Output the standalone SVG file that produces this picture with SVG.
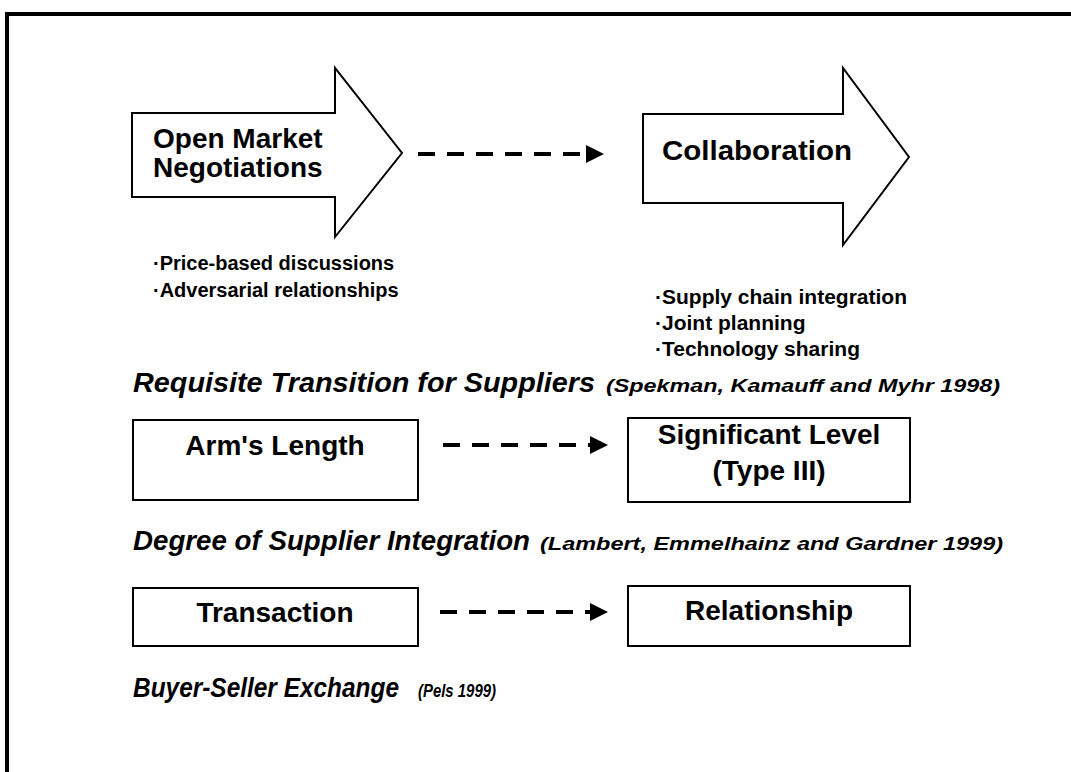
<svg xmlns="http://www.w3.org/2000/svg" width="1071" height="772" viewBox="0 0 1071 772">
<defs>
<style>
.lbl{font-family:"Liberation Sans",Arial,sans-serif;font-weight:bold;font-size:28px;fill:#000}
.bul{font-family:"Liberation Sans",Arial,sans-serif;font-weight:bold;font-size:20px;fill:#000}
.bul2{font-family:"Liberation Sans",Arial,sans-serif;font-weight:bold;font-size:21px;fill:#000}
.ttl{font-family:"Liberation Sans",Arial,sans-serif;font-weight:bold;font-style:italic;font-size:27px;fill:#000}
.cit{font-family:"Liberation Sans",Arial,sans-serif;font-weight:bold;font-style:italic;font-size:18px;fill:#000}
.shape{fill:#fff;stroke:#000;stroke-width:2}
.dash{fill:none;stroke:#000;stroke-width:4;stroke-dasharray:17 12}
</style>
<marker id="ah" viewBox="0 0 10 10" refX="0" refY="5" markerWidth="4.5" markerHeight="4.5" markerUnits="strokeWidth" orient="auto">
<path d="M0,0 L10,5 L0,10 Z" fill="#000"/>
</marker>
</defs>
<rect width="1071" height="772" fill="#fff"/>
<g id="frame">
<line x1="5" y1="14" x2="1071" y2="14" stroke="#000" stroke-width="4"/>
<line x1="7" y1="12" x2="7" y2="772" stroke="#000" stroke-width="4"/>
</g>
<g id="open-market">
<path class="shape" d="M132,113 L335,113 L335,68 L402,153 L335,237 L335,197 L132,197 Z"/>
<text class="lbl" x="153" y="148">Open Market</text>
<text class="lbl" x="153" y="177">Negotiations</text>
<text class="bul" x="153" y="270">·Price-based discussions</text>
<text class="bul" x="153" y="297">·Adversarial relationships</text>
</g>
<g id="collaboration">
<path class="shape" d="M643,114 L843,114 L843,68 L909,157 L843,245 L843,203 L643,203 Z"/>
<text class="lbl" x="662" y="160" textLength="190" lengthAdjust="spacingAndGlyphs">Collaboration</text>
<text class="bul2" x="655" y="304">·Supply chain integration</text>
<text class="bul2" x="655" y="330">·Joint planning</text>
<text class="bul2" x="655" y="356">·Technology sharing</text>
</g>
<g id="title1">
<text class="ttl" x="133" y="392" textLength="462" lengthAdjust="spacingAndGlyphs">Requisite Transition for Suppliers</text>
<text class="cit" x="606" y="392" textLength="394" lengthAdjust="spacingAndGlyphs">(Spekman, Kamauff and Myhr 1998)</text>
</g>
<g id="arms-length">
<rect class="shape" x="133" y="420" width="285" height="80"/>
<text class="lbl" x="275" y="455" text-anchor="middle">Arm's Length</text>
</g>
<g id="significant-level">
<rect class="shape" x="628" y="418" width="282" height="84"/>
<text class="lbl" x="769" y="444" text-anchor="middle">Significant Level</text>
<text class="lbl" x="769" y="480" text-anchor="middle">(Type III)</text>
</g>
<g id="title2">
<text class="ttl" x="133" y="550" textLength="397" lengthAdjust="spacingAndGlyphs">Degree of Supplier Integration</text>
<text class="cit" x="540" y="550" textLength="463" lengthAdjust="spacingAndGlyphs">(Lambert, Emmelhainz and Gardner 1999)</text>
</g>
<g id="transaction">
<rect class="shape" x="133" y="588" width="285" height="58"/>
<text class="lbl" x="275" y="622" text-anchor="middle">Transaction</text>
</g>
<g id="relationship">
<rect class="shape" x="628" y="586" width="282" height="60"/>
<text class="lbl" x="769" y="620" text-anchor="middle">Relationship</text>
</g>
<g id="title3">
<text class="ttl" x="133" y="697" textLength="266" lengthAdjust="spacingAndGlyphs">Buyer-Seller Exchange</text>
<text class="cit" x="418" y="697" textLength="78" lengthAdjust="spacingAndGlyphs">(Pels 1999)</text>
</g>
<g id="connectors">
<path class="dash" d="M418,154 L586,154" marker-end="url(#ah)"/>
<path class="dash" d="M443,445 L590,445" marker-end="url(#ah)"/>
<path class="dash" d="M440,612 L590,612" marker-end="url(#ah)"/>
</g>
</svg>
